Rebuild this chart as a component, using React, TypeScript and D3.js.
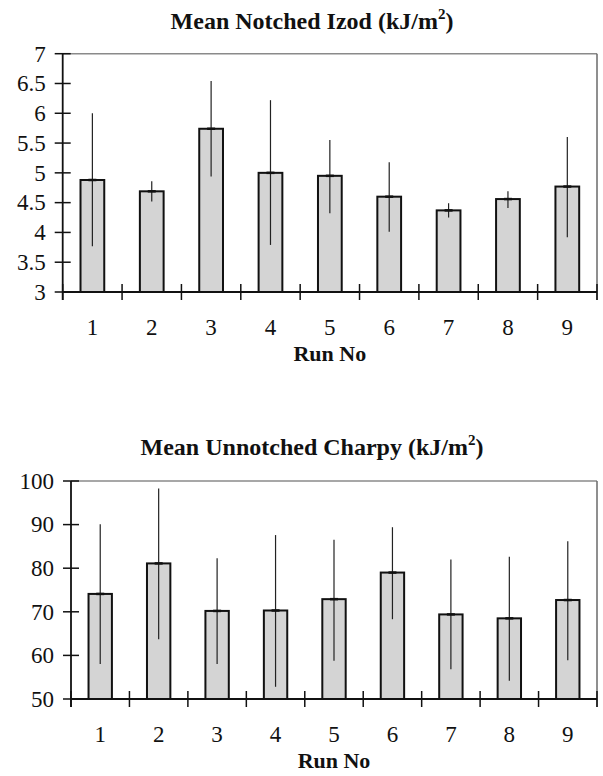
import React from "react";
import * as d3 from "d3";

const runs = ["1", "2", "3", "4", "5", "6", "7", "8", "9"];

const izodMean = [4.88, 4.69, 5.74, 5.0, 4.95, 4.6, 4.37, 4.56, 4.77];
const izodLow = [3.77, 4.52, 4.94, 3.79, 4.32, 4.01, 4.25, 4.41, 3.92];
const izodHigh = [6.0, 4.86, 6.54, 6.22, 5.55, 5.18, 4.49, 4.69, 5.6];
const izodTicks = [3, 3.5, 4, 4.5, 5, 5.5, 6, 6.5, 7];

const charpyMean = [74.1, 81.1, 70.2, 70.3, 72.9, 79.0, 69.4, 68.5, 72.7];
const charpyLow = [58.0, 63.7, 58.0, 52.8, 58.8, 68.3, 56.8, 54.2, 58.9];
const charpyHigh = [90.1, 98.3, 82.3, 87.6, 86.5, 89.4, 82.0, 82.6, 86.2];
const charpyTicks = [50, 60, 70, 80, 90, 100];

const FONT = "'Liberation Serif', 'Times New Roman', serif";

type ChartProps = {
  title: string;
  mean: number[];
  low: number[];
  high: number[];
  ticks: number[];
  left: number;
  right: number;
  top: number;
  bottom: number;
  titleY: number;
};

function Chart({ title, mean, low, high, ticks, left, right, top, bottom, titleY }: ChartProps) {
  const x = d3.scaleBand<string>().domain(runs).range([left, right]).padding(0);
  const y = d3
    .scaleLinear()
    .domain([ticks[0], ticks[ticks.length - 1]])
    .range([bottom, top]);
  const bw = x.bandwidth() * 0.4;
  const base = y(ticks[0]);
  const boundaries = [...runs.map((r) => x(r) as number), right];
  return (
    <g>
      <text
        x={312}
        y={titleY}
        textAnchor="middle"
        fontFamily={FONT}
        fontWeight="bold"
        fontSize={24}
        fill="#111"
      >
        {title}
        <tspan fontSize={15} dy={-10}>
          2
        </tspan>
        <tspan dy={10}>)</tspan>
      </text>
      {/* plot border (top & right) */}
      <line x1={left} x2={right} y1={top} y2={top} stroke="#8a8a8a" strokeWidth={1.5} />
      <line x1={right} x2={right} y1={top} y2={base + 8} stroke="#6a6a6a" strokeWidth={1.5} />
      {/* bars */}
      {runs.map((r, i) => {
        const cx = (x(r) as number) + x.bandwidth() / 2;
        return (
          <g key={r}>
            <rect
              x={cx - bw / 2}
              y={y(mean[i])}
              width={bw}
              height={base - y(mean[i])}
              fill="#d4d4d4"
              stroke="#111"
              strokeWidth={2}
            />
            <line x1={cx} x2={cx} y1={y(high[i])} y2={y(low[i])} stroke="#222" strokeWidth={1.2} />
            <line x1={cx - 4} x2={cx + 4} y1={y(mean[i])} y2={y(mean[i])} stroke="#111" strokeWidth={2.5} />
          </g>
        );
      })}
      {/* y axis */}
      <line x1={left} x2={left} y1={top} y2={base + 8} stroke="#111" strokeWidth={1.8} />
      {ticks.map((t) => (
        <g key={t}>
          <line x1={left - 8} x2={left + 8} y1={y(t)} y2={y(t)} stroke="#111" strokeWidth={1.5} />
          <text
            x={left - 17}
            y={y(t)}
            dy="0.34em"
            textAnchor="end"
            fontFamily={FONT}
            fontSize={23}
            fill="#111"
          >
            {t}
          </text>
        </g>
      ))}
      {/* x axis */}
      <line x1={left} x2={right} y1={base} y2={base} stroke="#111" strokeWidth={1.8} />
      {boundaries.map((b, i) => (
        <line key={i} x1={b} x2={b} y1={base - 8} y2={base + 8} stroke="#111" strokeWidth={1.5} />
      ))}
      {runs.map((r) => (
        <text
          key={r}
          x={(x(r) as number) + x.bandwidth() / 2}
          y={base + 43}
          textAnchor="middle"
          fontFamily={FONT}
          fontSize={23}
          fill="#111"
        >
          {r}
        </text>
      ))}
      <text
        x={(left + right) / 2}
        y={base + 69}
        textAnchor="middle"
        fontFamily={FONT}
        fontWeight="bold"
        fontSize={22}
        fill="#111"
      >
        Run No
      </text>
    </g>
  );
}

export default function App() {
  return (
    <svg
      width={603}
      height={776}
      style={{ position: "absolute", left: 0, top: 0, background: "#fff" }}
    >
      <rect width={603} height={776} fill="#fff" />
      <Chart
        title="Mean Notched Izod (kJ/m"
        mean={izodMean}
        low={izodLow}
        high={izodHigh}
        ticks={izodTicks}
        left={62.7}
        right={597}
        top={53.7}
        bottom={292}
        titleY={28.5}
      />
      <Chart
        title="Mean Unnotched Charpy (kJ/m"
        mean={charpyMean}
        low={charpyLow}
        high={charpyHigh}
        ticks={charpyTicks}
        left={71}
        right={597}
        top={481}
        bottom={699}
        titleY={455}
      />
    </svg>
  );
}
